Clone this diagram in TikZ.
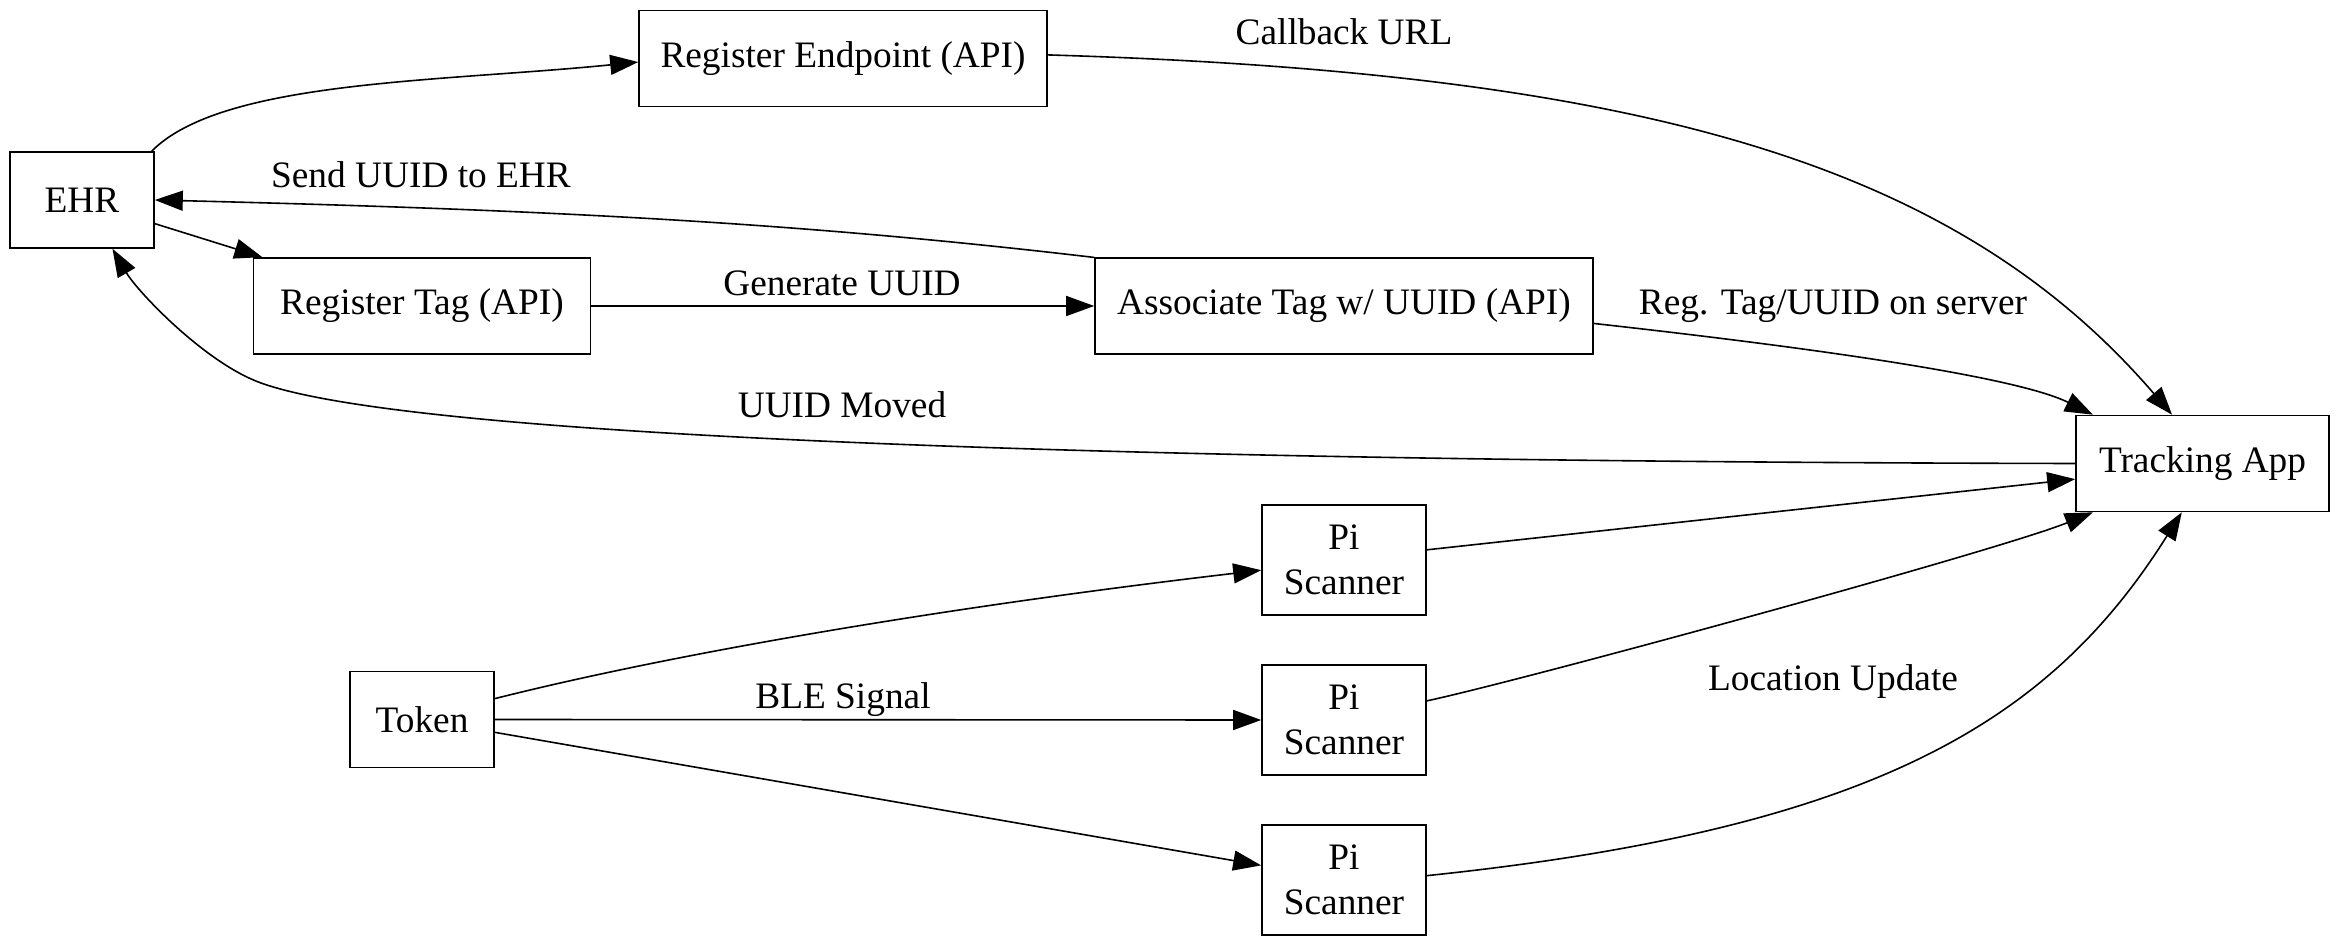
\documentclass[tikz,border=0pt]{standalone}
\usepackage{fontspec}
\setmainfont{Liberation Serif}
\newfontfamily\timesx{Liberation Serif}
\usetikzlibrary{arrows.meta}
\begin{document}
\begin{tikzpicture}[x=0.375pt,y=-0.375pt,
  box/.style={draw, line width=0.6pt, inner sep=0pt, align=center,
    font=\timesx\fontsize{14pt}{16.8pt}\selectfont},
  lbl/.style={inner sep=0pt, anchor=base, font=\timesx\fontsize{14pt}{16.8pt}\selectfont},
  conn/.style={line width=0.6pt, -{Triangle[length=10.5pt,width=7.5pt]}}]
\useasboundingbox (0,0) rectangle (2338,946);
% nodes
\node[box, minimum width=54pt, minimum height=36pt] (EHR) at (82,200) {EHR};
\node[box, minimum width=153pt, minimum height=36pt] (RegEnd) at (843,58.5) {Register Endpoint (API)};
\node[box, minimum width=126.4pt, minimum height=36pt] (RegTag) at (422,306) {Register Tag (API)};
\node[box, minimum width=186.75pt, minimum height=36pt] (Assoc) at (1344,306) {Associate Tag w/ UUID (API)};
\node[box, minimum width=94.9pt, minimum height=36pt] (Track) at (2202.5,463.5) {Tracking App};
\node[box, minimum width=61.5pt, minimum height=41.25pt] (Pi1) at (1344,560) {Pi\\Scanner};
\node[box, minimum width=61.5pt, minimum height=41.25pt] (Pi2) at (1344,720) {Pi\\Scanner};
\node[box, minimum width=61.5pt, minimum height=41.25pt] (Pi3) at (1344,880) {Pi\\Scanner};
\node[box, minimum width=54pt, minimum height=36pt] (Token) at (422,719.5) {Token};
% labels
\node[lbl] (lcb) at (1344,45) {Callback URL};
\node[lbl] (lsend) at (421,188) {Send UUID to EHR};
\node[lbl] (lgen) at (842,296) {Generate UUID};
\node[lbl] (lreg) at (1833,315) {Reg. Tag/UUID on server};
\node[lbl] (lmov) at (842,418) {UUID Moved};
\node[lbl] (lble) at (843,708) {BLE Signal};
\node[lbl] (lloc) at (1833,690) {Location Update};
\coordinate (m1) at (261,383);
% connectors
\draw[conn] (EHR.35) .. controls (222,80) and (440,82) .. (RegEnd.181);
\draw[conn] (RegEnd.1) .. controls (1647,73) and (1957,165) .. (Track.122);
\draw[conn] (EHR.-18) -- (RegTag.163);
\draw[conn] (RegTag.east) -- (Assoc.west);
\draw[conn] (Assoc.169) .. controls (802,223) and (554,210) .. (EHR.east);
\draw[conn] (Track.west) .. controls (1276,462) and (430,444) .. (m1)
   .. controls (205,363) and (137,291) .. (EHR.-58);
\draw[conn] (Assoc.-4) .. controls (1742,340) and (2007,372) .. (Track.156);
\draw[conn] (Token.16) .. controls (688,650) and (964,605) .. (Pi1.187);
\draw[conn] (Token.east) -- (Pi2.west);
\draw[conn] (Token.-10) -- (Pi3.170);
\draw[conn] (Pi1.7) -- (Track.187);
\draw[conn] (Pi2.13) .. controls (1524,680) and (2000,550) .. (Track.204);
\draw[conn] (Pi3.3) .. controls (1874,829) and (2050,722) .. (Track.247);
\end{tikzpicture}
\end{document}
